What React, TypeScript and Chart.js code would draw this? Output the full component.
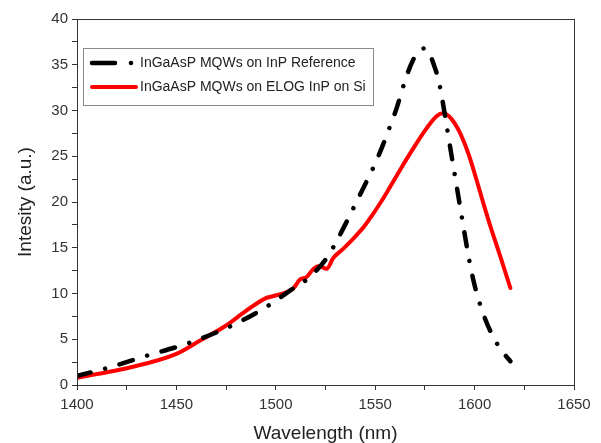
import React, { useEffect, useRef } from "react";
import { Chart, registerables } from "chart.js";

Chart.register(...registerables);

// InGaAsP MQWs on InP Reference (black dash-dot)
const refWavelength = [1400, 1416, 1435, 1455, 1476, 1495, 1509, 1516, 1526, 1531, 1536, 1541, 1546, 1550, 1554, 1558, 1561, 1563.5, 1566, 1569, 1572, 1575, 1577, 1579, 1582, 1585, 1588, 1591, 1594, 1597, 1600, 1604, 1609, 1613.5, 1618];
const refIntensity = [1.0, 1.9, 3.2, 4.5, 6.3, 8.5, 10.6, 11.6, 14.0, 15.9, 18.0, 20.2, 22.4, 24.2, 26.3, 28.6, 30.4, 32.2, 33.9, 35.5, 36.5, 36.8, 36.4, 35.3, 33.2, 29.6, 25.6, 21.7, 17.8, 14.0, 10.9, 8.0, 5.4, 3.8, 2.6];

// InGaAsP MQWs on ELOG InP on Si (red solid)
const siWavelength = [1400, 1410, 1424.5, 1450, 1461.5, 1475, 1485, 1495, 1498.5, 1509, 1512, 1515.5, 1519, 1522, 1525.5, 1529, 1534, 1539, 1544, 1548, 1552, 1556, 1562.5, 1569, 1576, 1581, 1584, 1587, 1590, 1593, 1597, 1601, 1604.5, 1608, 1613, 1618];
const siIntensity = [0.8, 1.2, 1.8, 3.4, 4.8, 6.5, 8.1, 9.5, 9.7, 10.6, 11.5, 11.8, 12.7, 13.0, 12.7, 13.9, 14.9, 16.0, 17.2, 18.4, 19.7, 21.1, 23.5, 25.8, 28.1, 29.4, 29.7, 29.4, 28.6, 27.4, 25.2, 22.4, 19.8, 17.3, 14.0, 10.6];

const seriesLabels = ["InGaAsP MQWs on InP Reference", "InGaAsP MQWs on ELOG InP on Si"];
const xTitle = "Wavelength (nm)";
const yTitle = "Intesity (a.u.)";
const xMin = 1400, xMax = 1650, xMajor = 50, xMinor = 25;
const yMin = 0, yMax = 40, yMajor = 5, yMinor = 2.5;

const FONT = "'Liberation Sans', Arial, sans-serif";
const BLACK_DASH = [14, 15, 0.01, 15];

const framePlugin = {
  id: "frame",
  afterDraw(chart: any) {
    const { ctx, chartArea } = chart;
    ctx.save();
    ctx.strokeStyle = "#333";
    ctx.lineWidth = 1;
    ctx.strokeRect(Math.round(chartArea.left) + 0.5, Math.round(chartArea.top) + 0.5,
      Math.round(chartArea.right - chartArea.left), Math.round(chartArea.bottom - chartArea.top));
    ctx.restore();
  },
};

const legendPlugin = {
  id: "boxLegend",
  afterDraw(chart: any) {
    const { ctx } = chart;
    ctx.save();
    const bx = 83, by = 48, bw = 290, bh = 57;
    ctx.fillStyle = "#fff";
    ctx.fillRect(bx, by, bw, bh);
    ctx.strokeStyle = "#8a8a8a";
    ctx.lineWidth = 1;
    ctx.strokeRect(bx + 0.5, by + 0.5, bw, bh);
    const rows = [63, 87];
    ctx.lineCap = "round";
    ctx.strokeStyle = "#000";
    ctx.lineWidth = 4.5;
    ctx.beginPath();
    ctx.moveTo(92, rows[0]);
    ctx.lineTo(115, rows[0]);
    ctx.stroke();
    ctx.beginPath();
    ctx.arc(131, rows[0], 2.3, 0, Math.PI * 2);
    ctx.fillStyle = "#000";
    ctx.fill();
    ctx.strokeStyle = "rgb(255,0,0)";
    ctx.lineWidth = 4;
    ctx.beginPath();
    ctx.moveTo(92, rows[1]);
    ctx.lineTo(136, rows[1]);
    ctx.stroke();
    ctx.fillStyle = "#222";
    ctx.font = `14px ${FONT}`;
    ctx.textBaseline = "middle";
    ctx.textAlign = "left";
    ctx.fillText(seriesLabels[0], 140, rows[0]);
    ctx.fillText(seriesLabels[1], 140, rows[1]);
    ctx.restore();
  },
};

export default function App() {
  const canvasRef = useRef<HTMLCanvasElement | null>(null);

  useEffect(() => {
    document.body.style.margin = "0";
    const canvas = canvasRef.current;
    if (!canvas) return;
    const chart = new Chart(canvas, {
      type: "line",
      data: {
        datasets: [
          {
            label: seriesLabels[0],
            data: refWavelength.map((x, i) => ({ x, y: refIntensity[i] })),
            borderColor: "#000",
            borderWidth: 4.5,
            borderDash: BLACK_DASH,
            borderCapStyle: "round",
            pointRadius: 0,
            cubicInterpolationMode: "monotone",
            fill: false,
          },
          {
            label: seriesLabels[1],
            data: siWavelength.map((x, i) => ({ x, y: siIntensity[i] })),
            borderColor: "rgb(255,0,0)",
            borderWidth: 4,
            borderCapStyle: "round",
            borderJoinStyle: "round",
            pointRadius: 0,
            cubicInterpolationMode: "monotone",
            fill: false,
          },
        ],
      },
      options: {
        responsive: false,
        animation: false,
        events: [],
        layout: { padding: { top: 19, right: 27, left: 0, bottom: 0 } },
        plugins: { legend: { display: false }, tooltip: { enabled: false } },
        scales: {
          x: {
            type: "linear",
            min: xMin,
            max: xMax,
            afterFit: (s: any) => { s.height = 58; },
            afterBuildTicks: (s: any) => {
              const t = [];
              for (let v = xMin; v <= xMax + 1e-9; v += xMinor) t.push({ value: v });
              s.ticks = t;
            },
            ticks: {
              autoSkip: false,
              maxRotation: 0,
              padding: 6,
              color: "#333",
              font: { family: FONT, size: 15 },
              callback: (v: any) => (Math.abs(v % xMajor) < 1e-6 ? String(v) : ""),
            },
            grid: { drawOnChartArea: false, drawTicks: true, tickLength: 5, color: "#333" },
            border: { color: "#333", width: 1 },
            title: {
              display: true,
              text: xTitle,
              color: "#222",
              font: { family: FONT, size: 19, lineHeight: 1 },
              padding: { top: 0, bottom: 0 },
            },
          },
          y: {
            type: "linear",
            min: yMin,
            max: yMax,
            afterFit: (s: any) => { s.width = 77; },
            afterBuildTicks: (s: any) => {
              const t = [];
              for (let v = yMin; v <= yMax + 1e-9; v += yMinor) t.push({ value: v });
              s.ticks = t;
            },
            ticks: {
              autoSkip: false,
              padding: 4,
              color: "#333",
              font: { family: FONT, size: 15 },
              callback: (v: any) => (Math.abs(v % yMajor) < 1e-6 ? String(v) : ""),
            },
            grid: { drawOnChartArea: false, drawTicks: true, tickLength: 5, color: "#333" },
            border: { color: "#333", width: 1 },
            title: {
              display: true,
              text: yTitle,
              color: "#222",
              font: { family: FONT, size: 19, lineHeight: 1 },
              padding: { top: 16, bottom: 0 },
            },
          },
        },
      },
      plugins: [framePlugin, legendPlugin],
    } as any);
    return () => chart.destroy();
  }, []);

  return (
    <div style={{ width: 601, height: 443, background: "#fff" }}>
      <canvas ref={canvasRef} width={601} height={443} style={{ width: 601, height: 443, display: "block" }} />
    </div>
  );
}
